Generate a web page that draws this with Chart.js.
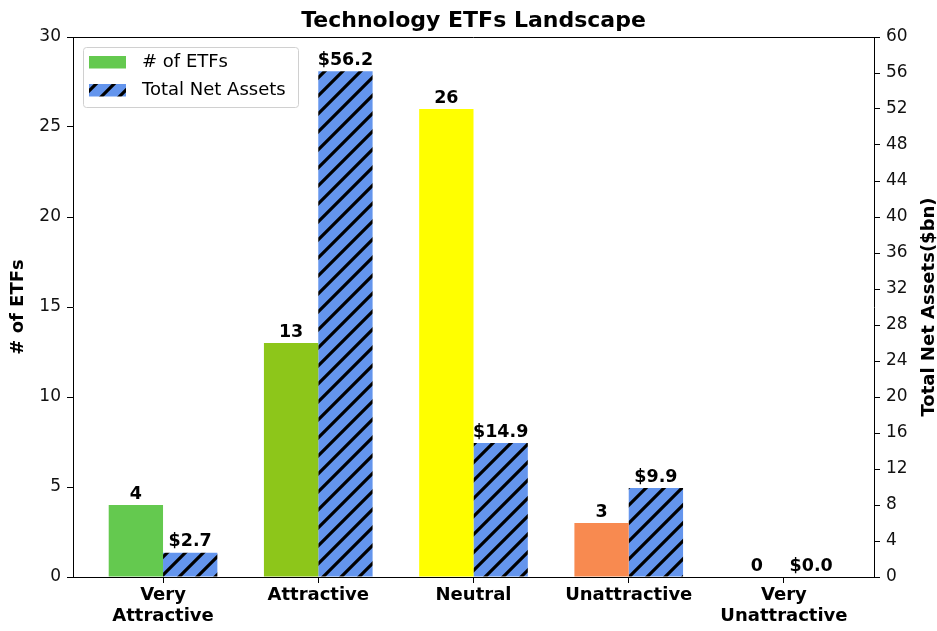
<!DOCTYPE html>
<html>
<head>
<meta charset="utf-8">
<script src="https://cdn.jsdelivr.net/npm/chart.js@4"></script>
<style>
html,body{margin:0;padding:0;background:#fff;}
#wrap{position:relative;width:937px;height:631px;}
</style>
</head>
<body>
<div id="wrap"><canvas id="c" width="937" height="631"></canvas></div>
<script>
const categories = [["Very","Attractive"],["Attractive"],["Neutral"],["Unattractive"],["Very","Unattractive"]];
const etfCounts = [4, 13, 26, 3, 0];
const netAssets = [2.7, 56.2, 14.9, 9.9, 0.0];
const barColors = ["#64c94f", "#8dc61a", "#ffff00", "#f88a50", "#e8402c"];
const seriesNames = ["# of ETFs", "Total Net Assets"];
const titleText = "Technology ETFs Landscape";
const leftTitle = "# of ETFs";
const rightTitle = "Total Net Assets($bn)";

const FONT = "'DejaVu Sans', sans-serif";

function makeHatch() {
  const s = 18;
  const cv = document.createElement('canvas');
  cv.width = s; cv.height = s;
  const g = cv.getContext('2d');
  g.fillStyle = "#6495ed";
  g.fillRect(0, 0, s, s);
  g.strokeStyle = "#000";
  g.lineWidth = 3.2;
  g.lineCap = 'butt';
  g.beginPath();
  g.moveTo(-4, s + 4); g.lineTo(s + 4, -4);      // x+y = s
  g.moveTo(-4, 4); g.lineTo(4, -4);              // x+y = 0
  g.moveTo(s - 4, s + 4); g.lineTo(s + 4, s - 4); // x+y = 2s
  g.stroke();
  return g.createPattern(cv, 'repeat');
}
const hatch = makeHatch();

const overlay = {
  id: 'overlay',
  afterDraw(chart) {
    const ctx = chart.ctx;
    const a = chart.chartArea;
    ctx.save();
    // top border
    ctx.strokeStyle = '#000'; ctx.lineWidth = 1;
    ctx.beginPath(); ctx.moveTo(a.left, a.top + 0.5); ctx.lineTo(a.right, a.top + 0.5); ctx.stroke();
    // title
    ctx.fillStyle = '#000';
    ctx.font = "bold 22px " + FONT;
    ctx.textAlign = 'center'; ctx.textBaseline = 'alphabetic';
    ctx.fillText(titleText, (a.left + a.right) / 2, 27);
    // axis titles (both read bottom-to-top)
    ctx.font = "bold 18px " + FONT;
    ctx.textBaseline = 'middle';
    const cy = (a.top + a.bottom) / 2;
    ctx.save(); ctx.translate(18, cy); ctx.rotate(-Math.PI / 2); ctx.fillText(leftTitle, 0, 0); ctx.restore();
    ctx.save(); ctx.translate(929, cy); ctx.rotate(-Math.PI / 2); ctx.fillText(rightTitle, 0, 0); ctx.restore();
    // bar labels
    ctx.font = "bold 17.5px " + FONT;
    ctx.textBaseline = 'bottom';
    chart.data.datasets.forEach((ds, di) => {
      const meta = chart.getDatasetMeta(di);
      meta.data.forEach((bar, j) => {
        const v = di === 0 ? String(etfCounts[j]) : "$" + netAssets[j].toFixed(1);
        ctx.fillText(v, bar.x, bar.y - 2);
      });
    });
    // legend
    const lx = 83, ly = 47, lw = 215, lh = 60;
    ctx.fillStyle = 'rgba(255,255,255,0.8)';
    ctx.strokeStyle = '#d0d0d0';
    ctx.lineWidth = 1;
    ctx.beginPath();
    ctx.roundRect(lx + 0.5, ly + 0.5, lw, lh, 3);
    ctx.fill(); ctx.stroke();
    ctx.fillStyle = barColors[0];
    ctx.fillRect(89, 56, 37, 12.5);
    ctx.fillStyle = hatch;
    ctx.fillRect(89, 84, 37, 12.5);
    ctx.fillStyle = '#000';
    ctx.font = "18px " + FONT;
    ctx.textAlign = 'left'; ctx.textBaseline = 'middle';
    ctx.fillText(seriesNames[0], 142, 62);
    ctx.fillText(seriesNames[1], 142, 90);
    ctx.restore();
  }
};

const tickFont = { family: FONT, size: 17 };

new Chart(document.getElementById('c'), {
  type: 'bar',
  data: {
    datasets: [
      {
        label: seriesNames[0],
        data: etfCounts.map((v, i) => ({ x: i, y: v })),
        backgroundColor: barColors,
        yAxisID: 'y',
        categoryPercentage: 0.7,
        barPercentage: 1.0
      },
      {
        label: seriesNames[1],
        data: netAssets.map((v, i) => ({ x: i, y: v })),
        backgroundColor: hatch,
        yAxisID: 'y1',
        categoryPercentage: 0.7,
        barPercentage: 1.0
      }
    ]
  },
  options: {
    responsive: false,
    animation: false,
    layout: { padding: { top: 37, left: 0, right: 0, bottom: 0 } },
    plugins: { legend: { display: false }, tooltip: { enabled: false }, title: { display: false } },
    scales: {
      x: {
        type: 'linear',
        min: -0.58, max: 4.58,
        offset: false,
        grid: { display: true, offset: false, drawOnChartArea: false, drawTicks: true, tickLength: 6, color: '#000' },
        border: { display: true, color: '#000', width: 1 },
        afterBuildTicks(scale) { scale.ticks = categories.map((c, i) => ({ value: i })); },
        ticks: {
          autoSkip: false, maxRotation: 0, color: '#000',
          font: { family: FONT, size: 18, weight: 'bold', lineHeight: 1.15 },
          padding: 2,
          callback: (v) => categories[v]
        },
        afterFit(scale) { scale.height = 54; }
      },
      y: {
        position: 'left',
        min: 0, max: 30,
        grid: { display: true, drawOnChartArea: false, drawTicks: true, tickLength: 6, color: '#000' },
        border: { display: true, color: '#000', width: 1 },
        ticks: { stepSize: 5, color: '#111', font: tickFont, padding: 6 },
        afterFit(scale) { scale.width = 73; }
      },
      y1: {
        position: 'right',
        min: 0, max: 60,
        grid: { display: true, drawOnChartArea: false, drawTicks: true, tickLength: 6, color: '#000' },
        border: { display: true, color: '#000', width: 1 },
        ticks: { stepSize: 4, color: '#111', font: tickFont, padding: 6 },
        afterFit(scale) { scale.width = 63; }
      }
    }
  },
  plugins: [overlay]
});
</script>
</body>
</html>
